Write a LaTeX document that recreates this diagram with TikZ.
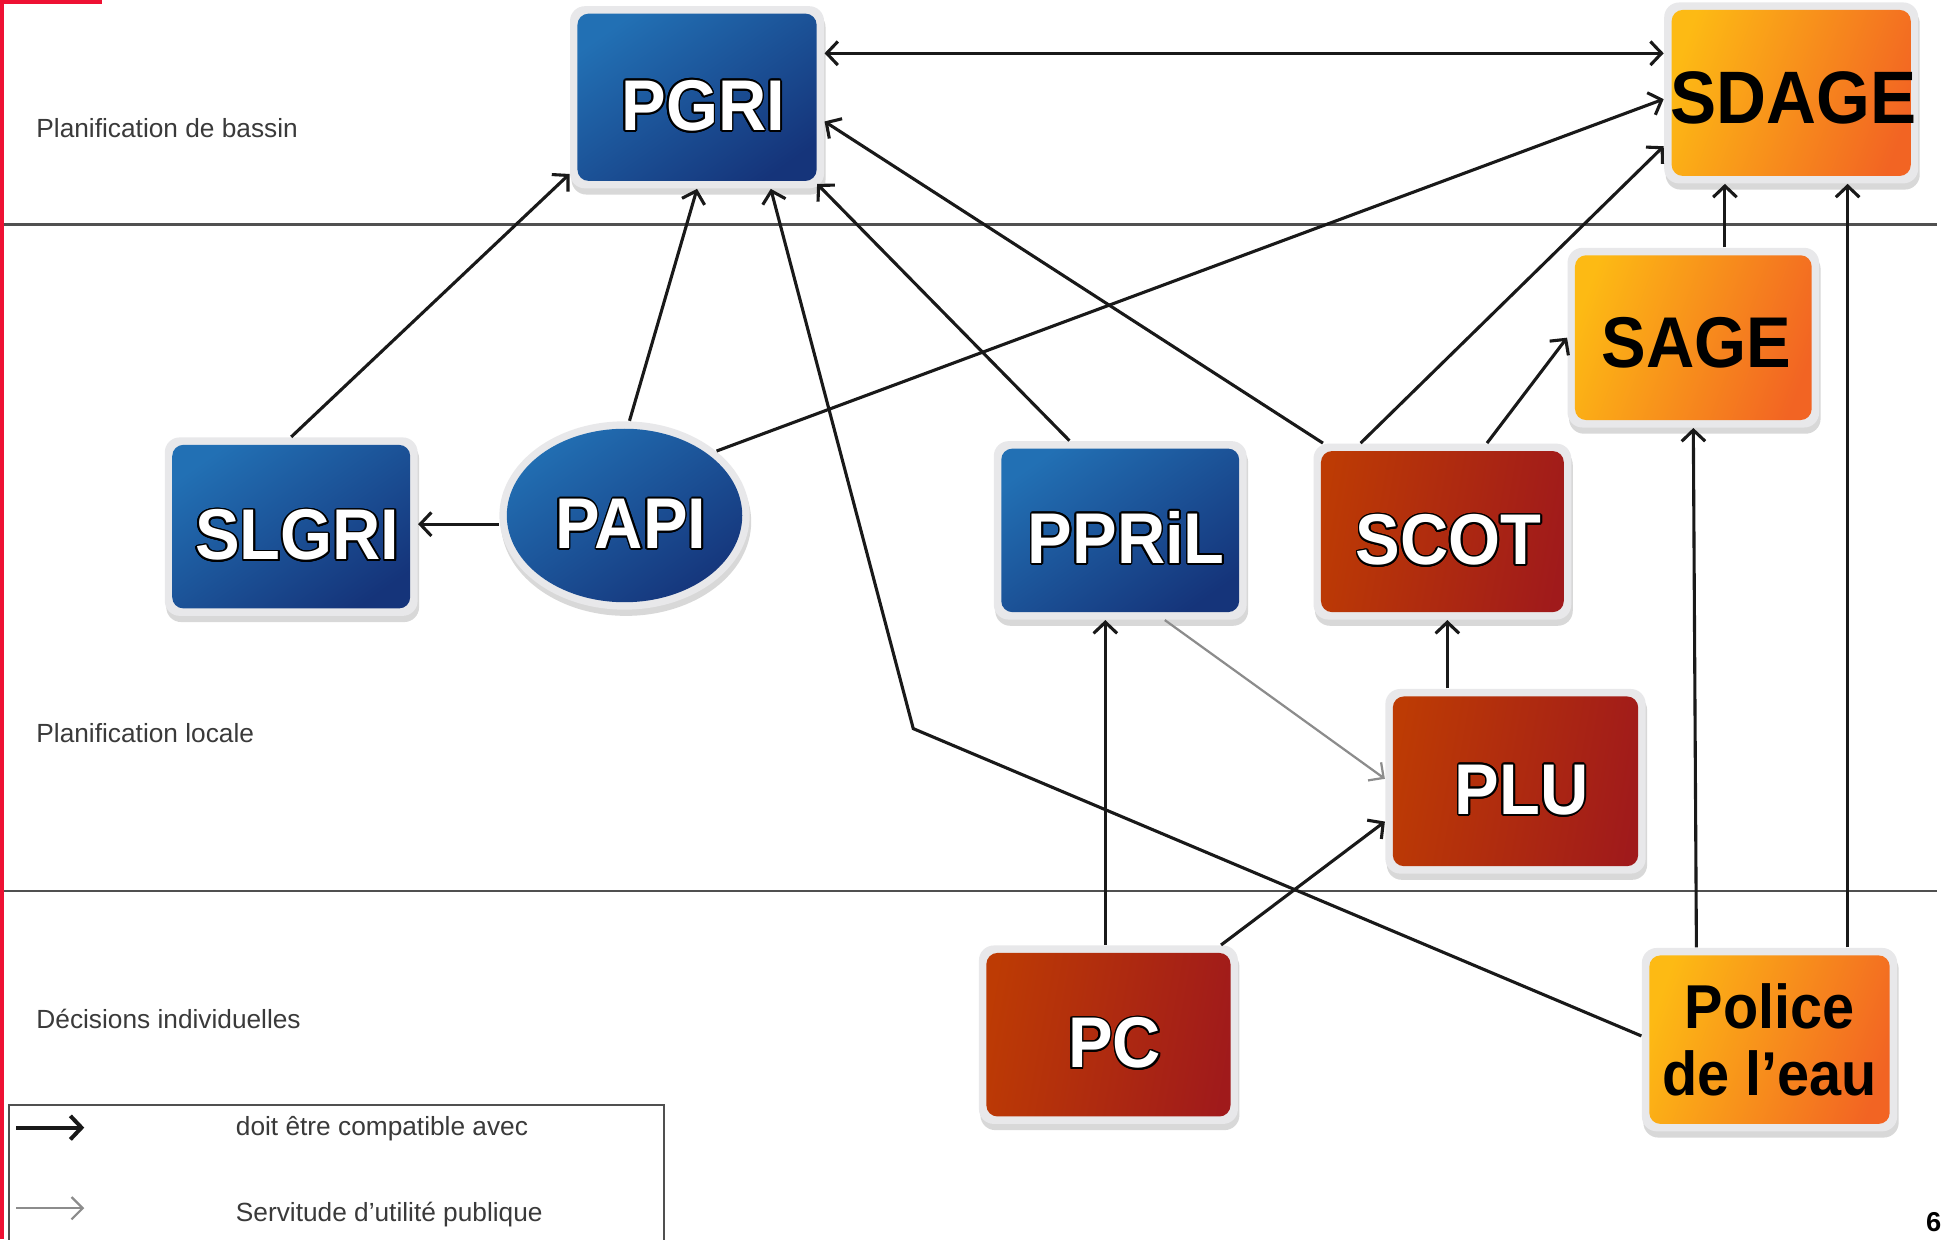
\documentclass[tikz,border=0pt]{standalone}
\usepackage{fontspec}
\setmainfont{Liberation Sans}
\newfontfamily\boxfont[FakeStretch=0.93]{Liberation Sans}
\usepackage{contour}
\contourlength{0.7pt}
\usetikzlibrary{arrows.meta,shapes.geometric,shadows,calc}
\definecolor{blueA}{HTML}{2270B4}
\definecolor{blueB}{HTML}{15347A}
\definecolor{orA}{HTML}{FDBA14}
\definecolor{orB}{HTML}{F26423}
\definecolor{redA}{HTML}{BD3B04}
\definecolor{redB}{HTML}{A01A1B}
\definecolor{frameC}{HTML}{E8E8EA}
\definecolor{lineC}{HTML}{505050}
\definecolor{redline}{HTML}{EE1133}
\definecolor{txtC}{HTML}{3A3A3A}
\newcommand\wtxt[1]{\hspace*{5pt}\contour{black}{#1}}
\tikzset{
  framebox/.style={rectangle, rounded corners=6pt, fill=frameC, inner sep=0pt,
    drop shadow={shadow xshift=0.6pt, shadow yshift=-2.5pt, opacity=0.25, fill=black!60},
    font=\boxfont\bfseries\fontsize{29}{32}\selectfont},
  lowtext/.style={text height=#1, text depth=0pt},
  bluebox/.style={framebox, text=white, lowtext=26.8pt,
    path picture={\shade[rounded corners=4.5pt, top color=blueA, bottom color=blueB, shading angle=35]
      ([shift={(3pt,-3pt)}]path picture bounding box.north west) rectangle
      ([shift={(-3pt,3pt)}]path picture bounding box.south east);}},
  redbox/.style={framebox, text=white, lowtext=26.8pt,
    path picture={\shade[rounded corners=4.5pt, left color=redA, right color=redB, shading angle=80]
      ([shift={(3pt,-3pt)}]path picture bounding box.north west) rectangle
      ([shift={(-3pt,3pt)}]path picture bounding box.south east);}},
  orbox/.style={framebox, text=black,
    path picture={\shade[rounded corners=4.5pt, left color=orA, right color=orB, shading angle=70]
      ([shift={(3pt,-3pt)}]path picture bounding box.north west) rectangle
      ([shift={(-3pt,3pt)}]path picture bounding box.south east);}},
  blueell/.style={ellipse, fill=frameC, inner sep=0pt, text=white, lowtext=26.8pt,
    drop shadow={shadow xshift=0.6pt, shadow yshift=-2.5pt, opacity=0.25, fill=black!60},
    font=\boxfont\bfseries\fontsize{29}{32}\selectfont,
    path picture={\shade[top color=blueA, bottom color=blueB, shading angle=35]
      (path picture bounding box.center) ellipse [x radius=47.5pt, y radius=35pt];}},
  conn/.style={draw=black!90, line width=1.25pt, -{Straight Barb[length=4.5pt,width=9.5pt]}},
  dconn/.style={draw=black!90, line width=1.25pt, {Straight Barb[length=4.5pt,width=9.5pt]}-{Straight Barb[length=4.5pt,width=9.5pt]}},
  gconn/.style={draw=black!45, line width=0.9pt, -{Straight Barb[length=4.5pt,width=9pt]}},
  sepline/.style={draw=lineC, line width=1pt},
  lbl/.style={anchor=west, inner sep=0pt, text=txtC, font=\fontsize{10.6}{12}\selectfont}
}
\begin{document}
\begin{tikzpicture}[x=0.5pt, y=-0.5pt]
\useasboundingbox (0,0) rectangle (1568,1000);
\fill[white] (0,0) rectangle (1568,1000);
% red page marks
\fill[redline] (0,0) rectangle (3.5,1000);
\fill[redline] (0,0) rectangle (82,3);
% separators
\draw[sepline] (3,181) -- (1563,181);
\draw[sepline] (3,719) -- (1563,719);
% row labels
\node[lbl] (lbassin) at (29,103) {Planification de bassin};
\node[lbl] (llocale) at (29,592) {Planification locale};
\node[lbl] (lindiv) at (29,822) {Décisions individuelles};
% nodes
\node[bluebox, minimum width=102.5pt, minimum height=73.5pt] (pgri) at (562.5,78.5) {\wtxt{PGRI}};
\node[orbox, minimum width=102.5pt, minimum height=73pt, lowtext=24.5pt, font=\boxfont\bfseries\fontsize{30}{32}\selectfont] (sdage) at (1445.5,75) {\hspace*{2pt}SDAGE};
\node[orbox, minimum width=101.5pt, minimum height=72.5pt, lowtext=24.3pt] (sage) at (1366.5,272.5) {\hspace*{2.5pt}SAGE};
\node[bluebox, minimum width=102pt, minimum height=72pt] (slgri) at (235,425) {\wtxt{SLGRI}};
\node[blueell, minimum width=101pt, minimum height=76pt] (papi) at (504,416) {\wtxt{PAPI}};
\node[bluebox, minimum width=102pt, minimum height=72pt] (ppril) at (904,428) {\wtxt{PPRiL}};
\node[redbox, minimum width=104pt, minimum height=71pt] (scot) at (1164,429) {\wtxt{SCOT}};
\node[redbox, minimum width=105pt, minimum height=74.5pt] (plu) at (1223,630.5) {\wtxt{PLU}};
\node[redbox, minimum width=104.5pt, minimum height=72pt] (pc) at (894.5,835) {\wtxt{PC}};
\node[orbox, minimum width=103pt, minimum height=74pt, align=center, font=\boxfont\bfseries\fontsize{25}{27}\selectfont] (police) at (1428,839) {Police\\de l’eau};
% helper coordinates
\coordinate (c1) at ([yshift=17.75pt]pgri.east);
\coordinate (c5) at ([yshift=-3.5pt]papi.west);
\coordinate (bend) at (737,588);
\coordinate (c11) at ([xshift=12.75pt]sage.north);
\coordinate (c12) at ([xshift=31.5pt]police.north);
\coordinate (c14) at ([xshift=-1.25pt]pc.north);
\coordinate (c16) at ([xshift=-27.5pt]plu.north);
% connectors
\draw[dconn] (c1) -- (c1 -| sdage.west);
\draw[conn] (slgri.north) -- ([yshift=6pt]pgri.south west);
\draw[conn] ([xshift=2pt]papi.north) -- (pgri.south);
\draw[conn] (papi.35) -- ([yshift=-2.5pt]sdage.west);
\draw[conn] (c5) -- (c5 -| slgri.east);
\draw[conn] ([yshift=1.5pt]police.west) -- (bend) -- ([xshift=29.75pt]pgri.south);
\draw[conn] ([xshift=-20.5pt]ppril.north) -- ([xshift=-3pt,yshift=2pt]pgri.south east);
\draw[conn] ([xshift=4pt]scot.north west) -- ([yshift=-9.75pt]pgri.east);
\draw[conn] ([xshift=-33pt]scot.north) -- ([yshift=-21.5pt]sdage.west);
\draw[conn] ([xshift=18pt]scot.north) -- (sage.west);
\draw[conn] (c11) -- (c11 |- sdage.south);
\draw[conn] (c12) -- (c12 |- sdage.south);
\draw[conn] ([xshift=-29.5pt]police.north) -- (sage.south);
\draw[conn] (c14) -- (c14 |- ppril.south);
\draw[conn] ([xshift=-7pt]pc.north east) -- ([yshift=-16.25pt]plu.west);
\draw[conn] (c16) -- (c16 |- scot.south);
\draw[gconn] ([xshift=18pt]ppril.south) -- ([yshift=1pt]plu.west);
% legend
\draw[lineC, line width=0.8pt] (7,1010) -- (7,892) -- (536,892) -- (536,1010);
\coordinate (la1) at (13,910);
\coordinate (la2) at (68,910);
\coordinate (lb1) at (13,975);
\coordinate (lb2) at (68,975);
\draw[conn, line width=1.6pt] (la1) -- (la2);
\draw[gconn] (lb1) -- (lb2);
\node[lbl] (leg1) at (190,911) {doit être compatible avec};
\node[lbl] (leg2) at (190,980) {Servitude d’utilité publique};
% page number at the edge
\node[anchor=east, inner sep=0pt, font=\bfseries\fontsize{11}{12}\selectfont] (pagenum) at (1567,986) {6};
\end{tikzpicture}
\end{document}
